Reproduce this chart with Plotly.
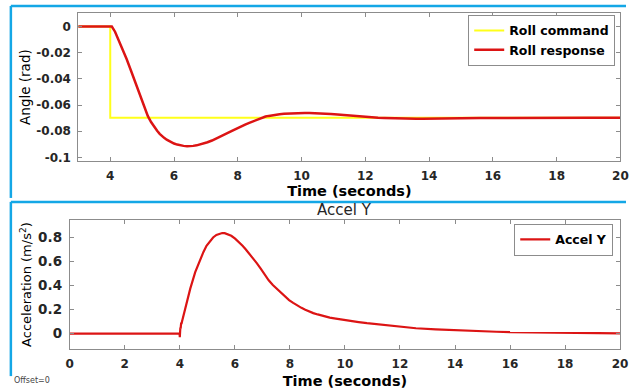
import plotly.graph_objects as go

# ---------------- data ----------------
t_cmd = [0, 4.0, 4.0, 20]
roll_cmd = [0, 0, -0.0698, -0.0698]

t_roll = [0, 4.05, 4.15, 4.26, 4.38, 4.51, 4.64, 4.77, 4.9, 5.03, 5.18, 5.28, 5.38, 5.47,
          5.55, 5.62, 5.69, 5.77, 5.85, 5.92, 6.0, 6.1, 6.2, 6.3, 6.41, 6.5, 6.6, 6.71,
          6.82, 6.93, 7.05, 7.19, 7.33, 7.46, 7.6, 7.72, 7.85, 7.97, 8.1, 8.23, 8.36,
          8.47, 8.57, 8.67, 8.77, 8.87, 8.97, 9.07, 9.18, 9.31, 9.45, 9.57, 9.69, 9.8,
          9.9, 10.0, 10.1, 10.25, 10.4, 10.56, 10.72, 10.92, 11.13, 11.36, 11.6, 11.8,
          12.0, 12.2, 12.4, 12.6, 12.8, 13.0, 13.2, 13.4, 13.6, 13.8, 14.0, 14.25, 14.5,
          14.85, 15.2, 15.6, 16, 16.5, 17, 18, 19, 20]
roll_resp = [0, 0, -0.004, -0.010, -0.017, -0.0247, -0.033, -0.0416, -0.050, -0.0584,
             -0.0685, -0.0730, -0.0768, -0.0797, -0.0820, -0.0837, -0.0851, -0.0865,
             -0.0876, -0.0886, -0.0894, -0.0902, -0.0908, -0.0912, -0.0914, -0.0914,
             -0.0912, -0.0908, -0.0902, -0.0894, -0.0884, -0.0871, -0.0856, -0.0841,
             -0.0825, -0.0809, -0.0793, -0.0778, -0.0763, -0.0749, -0.0736, -0.0725,
             -0.0714, -0.0704, -0.0695, -0.0688, -0.0683, -0.0678, -0.0674, -0.0670,
             -0.0667, -0.0665, -0.0663, -0.0662, -0.0661, -0.0660, -0.0660, -0.0660,
             -0.0661, -0.0663, -0.0665, -0.0669, -0.0673, -0.0678, -0.0683, -0.0687,
             -0.0691, -0.0694, -0.0697, -0.0699, -0.0701, -0.0702, -0.0703, -0.0704,
             -0.0704, -0.0704, -0.0703, -0.0703, -0.0702, -0.0701, -0.0700, -0.0699,
             -0.0699, -0.0698, -0.0698, -0.0698, -0.0698, -0.0698]

t_acc = [0, 3.99, 4.0, 4.005, 4.02, 4.03, 4.05, 4.06, 4.08, 4.2, 4.38, 4.56, 4.74,
         4.86, 4.97, 5.09, 5.21, 5.33, 5.45, 5.54, 5.63, 5.75, 5.87, 6.01, 6.16, 6.28,
         6.4, 6.52, 6.64, 6.79, 6.94, 7.08, 7.23, 7.38, 7.53, 7.68, 7.83, 7.97, 8.12,
         8.27, 8.42, 8.56, 8.7, 8.85, 9.01, 9.15, 9.3, 9.45, 9.61, 9.9, 10.2, 10.5, 10.8,
         11.1, 11.39, 11.7, 12.0, 12.58, 13.3, 14, 14.5, 15, 15.5, 16, 16.5, 17, 18, 19,
         20]
accel_y = [0, 0, -0.03, 0.03, 0.05, 0.04, 0.09, 0.08, 0.10, 0.209, 0.374, 0.511, 0.621,
           0.68, 0.731, 0.77, 0.80, 0.821, 0.833, 0.837, 0.836, 0.828, 0.814, 0.79,
           0.759, 0.731, 0.70, 0.668, 0.635, 0.588, 0.54, 0.491, 0.443, 0.404, 0.37,
           0.336, 0.305, 0.278, 0.255, 0.233, 0.214, 0.198, 0.183, 0.17, 0.159, 0.149,
           0.14, 0.132, 0.126, 0.114, 0.104, 0.095, 0.086, 0.078, 0.070, 0.062, 0.054,
           0.044, 0.035, 0.027, 0.023, 0.019, 0.015, 0.011, 0.009, 0.007, 0.004, 0.002,
           0.001]

top_xticks = [4, 6, 8, 10, 12, 14, 16, 18, 20]
top_yticks = [0, -0.02, -0.04, -0.06, -0.08, -0.1]
top_yticktext = ["0", "-0.02", "-0.04", "-0.06", "-0.08", "-0.1"]
bot_xticks = [0, 2, 4, 6, 8, 10, 12, 14, 16, 18, 20]
bot_yticks = [0, 0.2, 0.4, 0.6, 0.8]
bot_yticktext = ["0", "0.2", "0.4", "0.6", "0.8"]

# ---------------- figure ----------------
W, H = 634, 389
FONT = "DejaVu Sans"
AX_COL = "#8c8c8c"
TXT = "#262626"
BLUE = "#14a7e6"

def px_x(p):
    return p / W

def px_y(p):
    return 1 - p / H

fig = go.Figure()
fig.add_trace(go.Scatter(x=t_cmd, y=roll_cmd, mode="lines", name="Roll command",
                         line=dict(color="#ffff1a", width=2), xaxis="x", yaxis="y",
                         legend="legend"))
fig.add_trace(go.Scatter(x=t_roll, y=roll_resp, mode="lines", name="Roll response",
                         line=dict(color="#dc1414", width=2.5),
                         xaxis="x", yaxis="y", legend="legend"))
fig.add_trace(go.Scatter(x=t_acc, y=accel_y, mode="lines", name="Accel Y",
                         line=dict(color="#dc1414", width=2.2), xaxis="x2", yaxis="y2",
                         legend="legend2"))

axis_common = dict(showline=True, linecolor=AX_COL, linewidth=1, mirror="ticks",
                   ticks="inside", ticklen=4, tickcolor=AX_COL, showgrid=False,
                   zeroline=False, ticklabeloverflow="allow",
                   tickfont=dict(family=FONT, size=12, color=TXT, weight="bold"))

fig.update_layout(
    width=W, height=H, margin=dict(l=0, r=0, t=0, b=0),
    paper_bgcolor="white", plot_bgcolor="white",
    xaxis=dict(axis_common, domain=[px_x(75.8), px_x(628.3)], range=[3, 20],
               tickvals=top_xticks, anchor="y", ticklabelstandoff=3,
               title=dict(text="Time (seconds)", standoff=4,
                          font=dict(family=FONT, size=14.5, color="black", weight="bold"))),
    yaxis=dict(axis_common, domain=[px_y(163), px_y(13)], range=[-0.103, 0.0104],
               tickvals=top_yticks, ticktext=top_yticktext, anchor="x",
               ticklabelstandoff=4,
               title=dict(text="Angle (rad)", standoff=2,
                          font=dict(family=FONT, size=13.5, color="black"))),
    xaxis2=dict(axis_common, domain=[px_x(67), px_x(628)], range=[0, 20],
                tickvals=bot_xticks, anchor="y2", ticklabelstandoff=3,
                title=dict(text="Time (seconds)", standoff=8,
                           font=dict(family=FONT, size=14.5, color="black", weight="bold"))),
    yaxis2=dict(axis_common, domain=[px_y(353), px_y(222)], range=[-0.132, 0.948],
                tickvals=bot_yticks, ticktext=bot_yticktext,
                anchor="x2", ticklabelstandoff=4,
                tickfont=dict(family=FONT, size=13.5, color=TXT, weight="bold"),
                title=dict(text="Acceleration (m/s<sup>2</sup>)", standoff=3,
                           font=dict(family=FONT, size=13, color="black"))),
    legend=dict(x=px_x(623), y=px_y(15), xanchor="right", yanchor="top",
                bgcolor="white", bordercolor=AX_COL, borderwidth=1,
                font=dict(family=FONT, size=12.5, color="black", weight="bold"),
                itemwidth=30, tracegroupgap=0),
    legend2=dict(x=px_x(621), y=px_y(226), xanchor="right", yanchor="top",
                 bgcolor="white", bordercolor=AX_COL, borderwidth=1,
                 font=dict(family=FONT, size=12.5, color="black", weight="bold"),
                 itemwidth=30),
    showlegend=True,
    annotations=[
        dict(text="Accel Y", x=px_x(347), y=px_y(212), xref="paper", yref="paper",
             showarrow=False, xanchor="center", yanchor="middle",
             font=dict(family=FONT, size=15, color=TXT)),
        dict(text="Offset=0", x=px_x(8), y=px_y(384), xref="paper", yref="paper",
             showarrow=False, xanchor="left", yanchor="middle",
             font=dict(family=FONT, size=8, color="#444444")),
    ],
    shapes=[
        dict(type="line", xref="paper", yref="paper", x0=px_x(7), x1=1,
             y0=px_y(6), y1=px_y(6), line=dict(color=BLUE, width=2.5)),
        dict(type="line", xref="paper", yref="paper", x0=px_x(7), x1=px_x(7),
             y0=px_y(6), y1=px_y(200), line=dict(color=BLUE, width=2.5)),
        dict(type="line", xref="paper", yref="paper", x0=px_x(7), x1=1,
             y0=px_y(204), y1=px_y(204), line=dict(color=BLUE, width=2.5)),
        dict(type="line", xref="paper", yref="paper", x0=px_x(7), x1=px_x(7),
             y0=px_y(204), y1=px_y(380), line=dict(color=BLUE, width=2.5)),
    ],
)

fig.write_html("out.html")
